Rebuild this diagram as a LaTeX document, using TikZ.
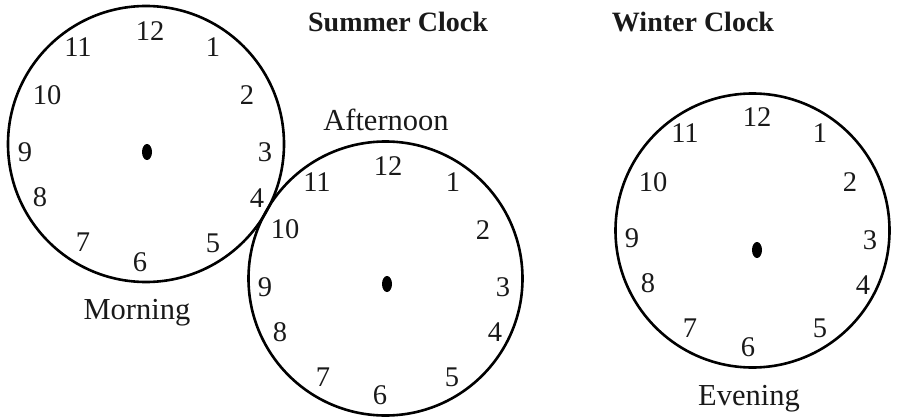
\documentclass[tikz,border=0pt]{standalone}
\usepackage{fontspec}
\setmainfont{Liberation Serif}
\usetikzlibrary{shapes.geometric}
\begin{document}
\begin{tikzpicture}[x=1pt,y=-1pt,
  face/.style={circle,draw=black,line width=2.6pt,inner sep=0pt,minimum size=#1},
  num/.style={inner sep=0pt,font=\fontsize{28.5}{32}\selectfont,text=black!90},
  lbl/.style={inner sep=0pt,anchor=base,font=\fontsize{30.5}{34}\selectfont,text=black!90},
  ttl/.style={inner sep=0pt,anchor=base,font=\fontsize{28}{32}\selectfont\bfseries,text=black!90},
  hub/.style={ellipse,fill=black,inner sep=0pt,minimum width=10pt,minimum height=16pt}]
\useasboundingbox (0,0) rectangle (901,417);
% clock 1 (morning)
\node[face=276pt] (c1) at (146,144) {};
\node[hub] (d1) at (147,152) {};
\node[num] (a12) at (150,31) {12};
\node[num] (a1) at (213,47) {1};
\node[num] (a2) at (247,95) {2};
\node[num] (a3) at (265,152) {3};
\node[num] (a4) at (257,198) {4};
\node[num] (a5) at (213,243) {5};
\node[num] (a6) at (140,262) {6};
\node[num] (a7) at (83,242) {7};
\node[num] (a8) at (40,197) {8};
\node[num] (a9) at (25,152) {9};
\node[num] (a10) at (47,95) {10};
\node[num] (a11) at (78,47) {11};
\node[lbl] (morning) at (137,319) {Morning};
% clock 2 (afternoon)
\node[face=274pt] (c2) at (385.5,278.5) {};
\node[hub] (d2) at (387,284) {};
\node[num] (b12) at (388,166) {12};
\node[num] (b1) at (453,182) {1};
\node[num] (b2) at (483,230) {2};
\node[num] (b3) at (503,287) {3};
\node[num] (b4) at (495,332) {4};
\node[num] (b5) at (452,377) {5};
\node[num] (b6) at (380,395) {6};
\node[num] (b7) at (323,377) {7};
\node[num] (b8) at (280,332) {8};
\node[num] (b9) at (265,287) {9};
\node[num] (b10) at (285,229) {10};
\node[num] (b11) at (317,182) {11};
\node[lbl] (afternoon) at (386,130) {Afternoon};
% clock 3 (evening)
\node[face=274pt] (c3) at (752.5,230.5) {};
\node[hub] (d3) at (757,250) {};
\node[num] (e12) at (757,117) {12};
\node[num] (e1) at (820,133) {1};
\node[num] (e2) at (850,182) {2};
\node[num] (e3) at (870,240) {3};
\node[num] (e4) at (863,285) {4};
\node[num] (e5) at (820,328) {5};
\node[num] (e6) at (748,347) {6};
\node[num] (e7) at (690,328) {7};
\node[num] (e8) at (648,283) {8};
\node[num] (e9) at (632,238) {9};
\node[num] (e10) at (653,182) {10};
\node[num] (e11) at (685,133) {11};
\node[lbl] (evening) at (749,405) {Evening};
% titles
\node[ttl] (summer) at (398,32) {Summer Clock};
\node[ttl] (winter) at (693,32) {Winter Clock};
\end{tikzpicture}
\end{document}
